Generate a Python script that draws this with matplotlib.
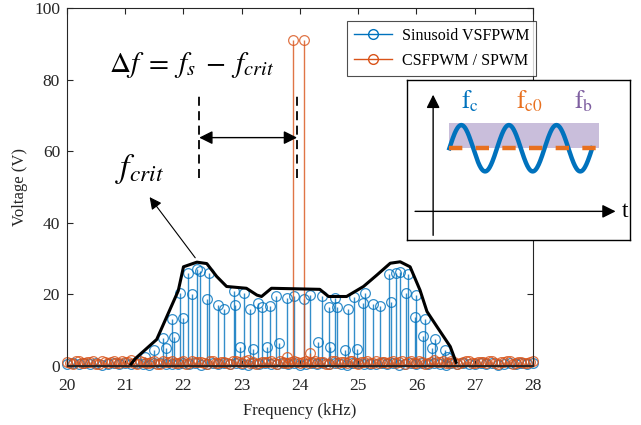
import numpy as np
import matplotlib
matplotlib.use("Agg")
import matplotlib.pyplot as plt
from matplotlib.patches import Rectangle

plt.rcParams['font.family'] = ['Liberation Serif', 'DejaVu Serif']
plt.rcParams['mathtext.fontset'] = 'stix'

# ---- data ----
grid_freq = [round(20 + 0.1 * i, 1) for i in range(81)]
half_freq = [round(20.05 + 0.1 * i, 2) for i in range(80)]

orange_base = [1.2, 0.6, 1.5, 0.8, 1.1, 0.5, 1.4, 0.9, 1.3, 0.7,
               1.0, 1.6, 0.6, 1.2, 0.9, 1.4, 0.5, 1.1, 1.3, 0.8,
               1.5, 0.7, 1.0, 1.2, 0.6, 1.4, 0.9, 1.1, 0.5, 1.3,
               0.8, 1.6, 1.0, 0.7, 1.2, 1.4, 0.6, 1.1, 0.9, 1.5,
               0.7, 1.3, 1.0, 0.8, 1.2, 0.6, 1.4, 1.1, 0.9, 1.3,
               0.5, 1.2, 0.8, 1.5, 1.0, 0.7, 1.3, 1.1, 0.6, 1.4,
               0.9, 1.2, 0.8, 1.6, 1.0, 0.7, 1.3, 0.5, 1.1, 1.4,
               0.8, 1.2, 0.9, 1.5, 0.6, 1.0, 1.3, 0.7, 1.1, 0.9, 1.4]

orange_half = [0.9, 1.3, 0.7, 1.1, 1.4, 0.6, 1.0, 1.2, 0.8, 1.5,
               1.1, 0.7, 1.3, 0.9, 1.2, 0.6, 1.4, 1.0, 0.8, 1.2,
               0.6, 1.3, 1.1, 0.9, 1.5, 0.7, 1.2, 0.8, 1.4, 1.0,
               1.3, 0.9, 0.6, 1.2, 1.0, 0.8, 1.4, 0.7, 1.2, 1.1,
               1.0, 0.8, 1.3, 1.2, 0.6, 1.5, 0.9, 1.0, 1.3, 0.7,
               1.1, 1.4, 0.9, 0.7, 1.2, 1.0, 0.8, 1.5, 1.1, 0.9,
               1.3, 0.6, 1.2, 1.0, 1.4, 0.8, 1.1, 0.9, 1.3, 0.7,
               1.2, 1.0, 1.4, 0.8, 1.1, 1.3, 0.6, 1.2, 0.9, 1.1]

blue_base = [0.6, 0.9, 0.4, 0.7, 0.5, 0.8, 0.3, 0.6, 0.9, 0.5,
             0.7, 0.4, 0.8, 0.6, 0.3, 0.7, 0.9, 0.5, 0.6, 0.4,
             0.8, 0.5, 0.7, 0.3, 0.6, 0.9, 0.4, 0.7, 0.5, 0.8,
             0.6, 0.3, 0.7, 0.5, 0.9, 0.4, 0.6, 0.8, 0.5, 0.7,
             0.3, 0.6, 0.9, 0.4, 0.7, 0.5, 0.8, 0.6, 0.3, 0.7,
             0.9, 0.5, 0.6, 0.4, 0.8, 0.5, 0.7, 0.3, 0.6, 0.9,
             0.4, 0.7, 0.5, 0.8, 0.6, 0.3, 0.7, 0.5, 0.9, 0.4,
             0.6, 0.8, 0.5, 0.7, 0.3, 0.6, 0.9, 0.4, 0.7, 0.5, 0.8]

# VSFPWM sideband components (kHz, V)
vsf_freq = [21.34, 21.49, 21.65, 21.70, 21.80, 21.84, 21.94, 21.99, 22.08, 22.14,
            22.24, 22.29, 22.40, 22.44, 22.60, 22.70, 22.86, 22.89, 22.97, 23.04,
            23.14, 23.19, 23.28, 23.34, 23.44, 23.48, 23.59, 23.64, 23.77, 23.90,
            24.07, 24.17, 24.31, 24.37, 24.49, 24.51, 24.60, 24.64, 24.77, 24.83,
            24.93, 24.98, 25.08, 25.12, 25.26, 25.37, 25.52, 25.56, 25.65, 25.72,
            25.82, 25.86, 25.97, 26.00, 26.12, 26.15, 26.26, 26.32, 26.49, 26.52]
vsf_amp = [2.5, 4.5, 7.8, 5.0, 13.0, 8.0, 20.4, 13.5, 26.0, 20.0,
           27.0, 26.5, 18.7, 26.0, 17.0, 16.0, 20.8, 17.0, 5.4, 20.5,
           15.8, 4.7, 17.7, 16.6, 5.4, 16.8, 19.6, 6.3, 18.9, 19.6,
           18.6, 19.8, 6.8, 19.6, 16.6, 5.4, 18.9, 16.6, 4.5, 16.0,
           19.4, 4.7, 17.5, 20.5, 17.2, 16.8, 25.7, 18.0, 26.0, 26.3,
           20.5, 25.7, 13.8, 19.8, 8.4, 13.0, 4.9, 7.4, 4.5, 2.6]

# CSFPWM / SPWM main components
csf_freq = [23.78, 23.88, 24.07, 24.17]
csf_amp = [2.6, 91.0, 91.0, 3.7]

# envelope f_crit
env_freq = [21.10, 21.17, 21.54, 21.91, 22.00, 22.23, 22.40, 22.57, 22.74, 23.08,
            23.26, 23.34, 23.51, 24.34, 24.49, 24.80, 25.09, 25.32, 25.55, 25.72,
            25.89, 26.06, 26.18, 26.35, 26.58, 26.68]
env_amp = [0.5, 2.0, 7.4, 21.0, 27.7, 29.0, 28.6, 25.0, 22.2, 21.7,
           19.8, 19.4, 21.7, 21.4, 19.4, 19.4, 22.2, 25.4, 28.7, 29.1,
           27.7, 21.2, 15.2, 11.0, 5.4, 1.0]

blue = '#0072BD'
orange = '#D95319'

fig = plt.figure(figsize=(6.41, 4.25), dpi=100)
ax = fig.add_axes([0.1045, 0.139, 0.727, 0.842])

# blue stems
bf = grid_freq + vsf_freq
ba = blue_base + vsf_amp
m, s, b = ax.stem(bf, ba, linefmt='-', markerfmt='o', basefmt=' ')
plt.setp(s, color=blue, linewidth=1.0, alpha=0.8)
plt.setp(m, color=blue, markerfacecolor='none', markersize=7, markeredgewidth=0.9,
         alpha=0.8, clip_on=False)
s.set_clip_on(False)

# orange stems
of = grid_freq + half_freq + csf_freq
oa = orange_base + orange_half + csf_amp
m2, s2, b2 = ax.stem(of, oa, linefmt='-', markerfmt='o', basefmt=' ')
plt.setp(s2, color=orange, linewidth=1.0, alpha=0.8)
plt.setp(m2, color=orange, markerfacecolor='none', markersize=7, markeredgewidth=0.9,
         alpha=0.8, clip_on=False)
s2.set_clip_on(False)

ax.plot([20, 28], [0, 0], color='#222222', lw=1.3, zorder=3)
ax.plot(env_freq, env_amp, color='k', lw=2.2, zorder=4)

# legend proxies
ax.plot([], [], '-o', color=blue, mfc='none', ms=7, lw=1, label='Sinusoid VSFPWM')
ax.plot([], [], '-o', color=orange, mfc='none', ms=7, lw=1, label='CSFPWM / SPWM')
h, l = ax.get_legend_handles_labels()
leg = ax.legend(h[-2:], l[-2:], loc='upper left', bbox_to_anchor=(0.583, 0.987),
                fancybox=False, edgecolor='#222222', fontsize=11.5, handlelength=2.4,
                handletextpad=0.6, borderpad=0.45, labelspacing=0.55)
leg.get_frame().set_linewidth(0.8)

# annotations
ax.text(20.72, 84, r'$\Delta f\;=\;f_s\;-\;f_{crit}$', fontsize=21, va='center', ha='left')
ax.text(21.24, 55.0, r'$f_{crit}$', fontsize=24, va='center', ha='center')
ax.annotate('', xy=(21.39, 47.8), xytext=(22.23, 29.6),
            arrowprops=dict(arrowstyle='-|>', color='k', lw=0.8, mutation_scale=18))
for xd in [22.27, 23.95]:
    ax.plot([xd, xd], [52.5, 76.3], color='k', lw=1.3, ls=(0, (5, 3)))
ax.annotate('', xy=(22.27, 63.8), xytext=(23.95, 63.8),
            arrowprops=dict(arrowstyle='<|-|>', color='k', lw=1.0, mutation_scale=20,
                            shrinkA=0, shrinkB=0))

ax.set_xlim(20, 28)
ax.set_ylim(0, 100)
ax.set_xticks(range(20, 29))
ax.set_yticks(range(0, 101, 20))
ax.tick_params(direction='in', top=True, right=True, labelsize=12.5, colors='#262626',
               length=4)
ax.tick_params(axis='x', pad=9)
ax.tick_params(axis='y', pad=5)
for sp in ax.spines.values():
    sp.set_color('#262626')
    sp.set_linewidth(0.8)
ax.set_xlabel('Frequency (kHz)', fontsize=12, color='#262626', labelpad=6)
ax.set_ylabel('Voltage (V)', fontsize=12, color='#262626')

# inset schematic
ins = fig.add_axes([0.635, 0.435, 0.348, 0.376])
ins.set_xlim(0, 1)
ins.set_ylim(0, 1)
ins.set_xticks([])
ins.set_yticks([])
for sp in ins.spines.values():
    sp.set_color('k')
    sp.set_linewidth(1.0)
ins.add_patch(Rectangle((0.188, 0.575), 0.673, 0.156, color='#C9BEDB', lw=0))
tt = np.linspace(0, 1, 300)
ins.plot(0.19 + 0.64 * tt, 0.575 + 0.145 * np.sin(2 * np.pi * 3 * tt), color=blue, lw=3.2)
ins.plot([0.188, 0.865], [0.575, 0.575], color='#E8701F', lw=3.2, ls=(0, (3, 3)))
ins.annotate('', xy=(0.117, 0.91), xytext=(0.117, 0.03),
             arrowprops=dict(arrowstyle='-|>', color='k', lw=1.0, mutation_scale=20,
                             shrinkA=0, shrinkB=0))
ins.annotate('', xy=(0.935, 0.18), xytext=(0.036, 0.18),
             arrowprops=dict(arrowstyle='-|>', color='k', lw=1.0, mutation_scale=20,
                             shrinkA=0, shrinkB=0))
ins.text(0.965, 0.18, 't', fontsize=17, va='center', ha='left')
ins.text(0.28, 0.87, r'$\mathrm{f_c}$', color=blue, fontsize=18, ha='center', va='center')
ins.text(0.55, 0.87, r'$\mathrm{f_{c0}}$', color='#E8701F', fontsize=18, ha='center', va='center')
ins.text(0.79, 0.87, r'$\mathrm{f_b}$', color='#7E5FA0', fontsize=18, ha='center', va='center')

fig.savefig('out.png', dpi=100, facecolor='white')
